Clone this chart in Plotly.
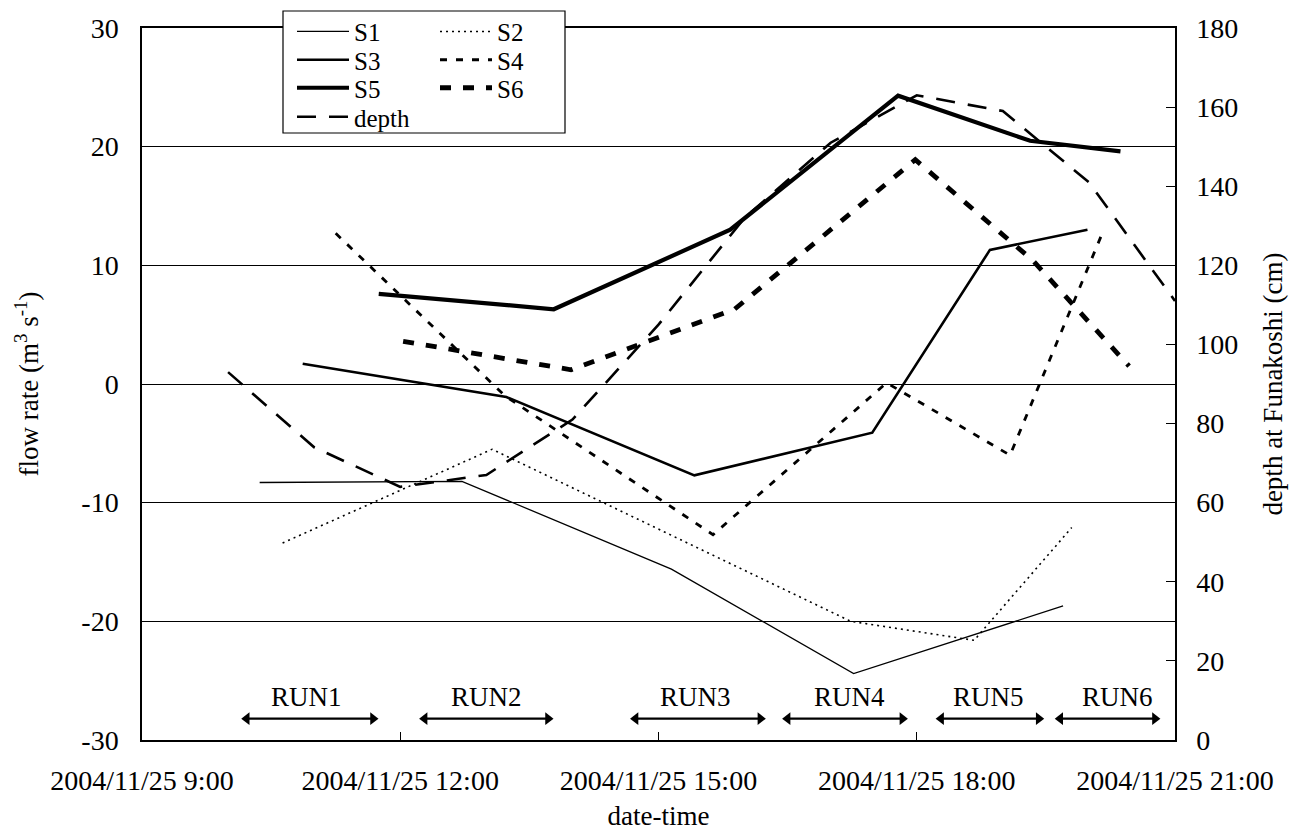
import plotly.graph_objects as go

DAY = "2004-11-25 "
FONT = "Liberation Serif"

# ---- data ----
s1_time = ["10:22", "12:43", "15:09", "17:16", "19:42"]
s1_flow = [-8.3, -8.2, -15.6, -24.4, -18.7]

s2_time = ["10:38", "13:04", "17:14", "18:40", "19:48"]
s2_flow = [-13.4, -5.5, -20.0, -21.6, -12.1]

s3_time = ["10:52", "13:14", "15:25", "17:29", "18:51", "19:59"]
s3_flow = [1.7, -1.1, -7.7, -4.1, 11.3, 13.0]

s4_time = ["11:15", "13:13", "15:38", "17:39", "19:05", "20:10"]
s4_flow = [12.7, -1.0, -12.7, 0.1, -6.0, 12.9]

s5_time = ["11:45", "13:47", "15:50", "17:47", "19:19", "20:22"]
s5_flow = [7.6, 6.3, 13.0, 24.3, 20.5, 19.6]

s6_time = ["12:02", "13:59", "15:53", "17:59", "19:21", "20:28"]
s6_flow = [3.6, 1.2, 6.3, 18.9, 10.4, 1.5]

depth_time = ["10:00", "11:00", "12:00", "13:00", "14:00", "15:00",
              "16:00", "17:00", "18:00", "19:00", "20:00", "21:00"]
depth_cm = [93, 74, 64, 67, 81, 105, 132, 151, 163, 159, 141, 111]

x_tick_times = ["09:00", "12:00", "15:00", "18:00", "21:00"]
x_tick_labels = ["2004/11/25 9:00", "2004/11/25 12:00", "2004/11/25 15:00",
                 "2004/11/25 18:00", "2004/11/25 21:00"]
y_left_ticks = [-30, -20, -10, 0, 10, 20, 30]
y_left_labels = ["-30", "-20", "-10", "0", "10", "20", "30"]
y_right_ticks = [0, 20, 40, 60, 80, 100, 120, 140, 160, 180]

run_labels = ["RUN1", "RUN2", "RUN3", "RUN4", "RUN5", "RUN6"]
run_start = ["10:13", "12:17", "14:44", "16:30", "18:17", "19:40"]
run_end = ["11:41", "13:43", "16:11", "17:50", "19:25", "20:46"]
run_label_time = ["10:55", "13:00", "15:26", "17:13", "18:50", "20:20"]
run_arrow_level = -28.2
run_label_level = -26.4


def ts(lst):
    return [DAY + t for t in lst]


fig = go.Figure()

series = [
    ("S1", s1_time, s1_flow, 1.3, "solid", "legend"),
    ("S2", s2_time, s2_flow, 1.6, "2px,4px", "legend2"),
    ("S3", s3_time, s3_flow, 2.6, "solid", "legend3"),
    ("S4", s4_time, s4_flow, 2.8, "7px,9px", "legend4"),
    ("S5", s5_time, s5_flow, 4.2, "solid", "legend5"),
    ("S6", s6_time, s6_flow, 4.8, "11px,12px", "legend6"),
]
for name, t, v, w, dash, lg in series:
    fig.add_trace(go.Scatter(
        x=ts(t), y=v, name=name, mode="lines", showlegend=True,
        line=dict(color="black", width=w, dash=dash),
        legend=lg, yaxis="y"))

fig.add_trace(go.Scatter(
    x=ts(depth_time), y=depth_cm, name="depth", mode="lines",
    showlegend=True,
    line=dict(color="black", width=2.6, dash="19px,13px"),
    legend="legend7", yaxis="y2"))

# ---- RUN double arrows (line + triangle heads) and labels ----
annotations = []
for lab, a, b, c in zip(run_labels, run_start, run_end, run_label_time):
    fig.add_trace(go.Scatter(
        x=[DAY + a, DAY + b], y=[run_arrow_level, run_arrow_level],
        mode="lines+markers", showlegend=False, hoverinfo="skip",
        line=dict(color="black", width=2.2),
        marker=dict(symbol=["triangle-left", "triangle-right"], size=11,
                    color="black", line=dict(width=0)),
        yaxis="y"))
    annotations.append(dict(
        x=DAY + c, y=run_label_level, xref="x", yref="y", text=lab,
        showarrow=False, xanchor="center", yanchor="middle",
        font=dict(family=FONT, size=27, color="black")))

# ---- legend layout: two columns inside a framed box ----
W, H = 1303, 831
L, R, T, B = 142, 128, 28, 91
PW, PH = W - L - R, H - T - B


def px_x(px):
    return (px - L) / PW


def px_y(py):
    return (H - B - py) / PH


col_x = [px_x(292), px_x(435)]
row_y = [px_y(31.7), px_y(60), px_y(88), px_y(117)]
legend_pos = {
    "legend": (col_x[0], row_y[0]),
    "legend2": (col_x[1], row_y[0]),
    "legend3": (col_x[0], row_y[1]),
    "legend4": (col_x[1], row_y[1]),
    "legend5": (col_x[0], row_y[2]),
    "legend6": (col_x[1], row_y[2]),
    "legend7": (col_x[0], row_y[3]),
}
legend_layout = {}
for key, (lx, ly) in legend_pos.items():
    legend_layout[key] = dict(
        x=lx, y=ly, xanchor="left", yanchor="middle", visible=True,
        bgcolor="rgba(0,0,0,0)", borderwidth=0, itemwidth=52,
        font=dict(family=FONT, size=25, color="black"))

tickfont = dict(family=FONT, size=28, color="black")
titlefont = dict(family=FONT, size=27, color="black")

fig.update_layout(
    width=W, height=H, showlegend=True,
    margin=dict(l=L, r=R, t=T, b=B, autoexpand=False),
    paper_bgcolor="white", plot_bgcolor="white",
    font=dict(family=FONT, color="black"),
    annotations=annotations,
    shapes=[dict(type="rect", xref="paper", yref="paper",
                 x0=px_x(283), x1=px_x(565), y0=px_y(133), y1=px_y(11),
                 line=dict(color="black", width=1.2), fillcolor="white",
                 layer="above")],
    xaxis=dict(
        type="date", range=[DAY + "09:00", DAY + "21:00"],
        tickvals=ts(x_tick_times), ticktext=x_tick_labels,
        ticks="inside", ticklen=8, tickcolor="black", tickwidth=1,
        showline=True, linecolor="black", linewidth=1.5, mirror=True,
        showgrid=False, zeroline=False, tickfont=tickfont,
        ticklabelstandoff=15, automargin=False,
        title=dict(text="date-time", font=titlefont, standoff=21)),
    yaxis=dict(
        range=[-30, 30], tickvals=y_left_ticks, ticktext=y_left_labels,
        ticks="inside", ticklen=8, tickcolor="black",
        showline=True, linecolor="black", linewidth=1.5, mirror=True,
        showgrid=True, gridcolor="black", gridwidth=1, zeroline=False,
        tickfont=tickfont, ticklabelstandoff=16, automargin=False,
        title=dict(text="flow rate (m<sup>3</sup> s<sup>-1</sup>)",
                   font=titlefont, standoff=35)),
    yaxis2=dict(
        range=[0, 180], tickvals=y_right_ticks, overlaying="y", side="right",
        ticks="inside", ticklen=9, tickcolor="black",
        showline=True, linecolor="black", linewidth=1.5,
        showgrid=False, zeroline=False, tickfont=tickfont,
        ticklabelstandoff=14, automargin=False,
        title=dict(text="depth at Funakoshi (cm)", font=titlefont,
                   standoff=26)),
    **legend_layout,
)

fig.write_html("out.html")
